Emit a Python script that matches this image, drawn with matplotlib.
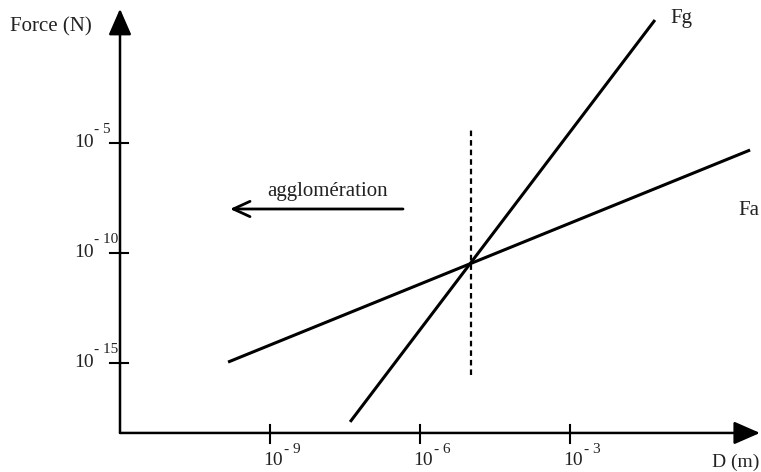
import matplotlib.pyplot as plt

# Force vs particle size (log-log sketch)
# Fa = adhesion force, Fg = weight
fa_d = [1.45e-10, 4.0]
fa_f = [1.1e-15, 4.8e-6]
fg_d = [4.0e-8, 5.0e-2]
fg_f = [2.1e-18, 3.9]
cross_d = 1.05e-5
cross_f = [2.8e-16, 3.9e-5]

x_ticks = [1e-9, 1e-6, 1e-3]
x_tick_exp = ['- 9', '- 6', '- 3']
y_ticks = [1e-5, 1e-10, 1e-15]
y_tick_exp = ['- 5', '- 10', '- 15']

plt.rcParams['font.family'] = ['Liberation Serif', 'DejaVu Serif']

fig = plt.figure(figsize=(7.61, 4.72), dpi=100)
ax = fig.add_axes([0, 0, 1, 1])
ax.set_xscale('log')
ax.set_yscale('log')
ax.set_xlim(10 ** -14.4, 10 ** 0.82)
ax.set_ylim(10 ** -19.955, 10 ** 1.5)
ax.axis('off')

x0 = 10 ** -12.0     # y axis position
y0 = 10 ** -18.18    # x axis position
txt = '#222222'

# axes with filled arrow heads
head = '-|>,head_length=1.6,head_width=0.7'
ax.annotate('', xy=(x0, 10 ** 1.1), xytext=(x0, y0),
            arrowprops=dict(arrowstyle=head, color='black', lw=1.8,
                            shrinkA=0, shrinkB=0))
ax.annotate('', xy=(10 ** 0.8, y0), xytext=(x0, y0),
            arrowprops=dict(arrowstyle=head, color='black', lw=1.8,
                            shrinkA=0, shrinkB=0))

# ticks
for xt, e in zip(x_ticks, x_tick_exp):
    ax.plot([xt, xt], [y0 * 10 ** 0.36, y0 / 10 ** 0.45], color='black', lw=1.5)
    ax.annotate('10', xy=(xt, y0), xytext=(-5, -14), textcoords='offset points',
                fontsize=14, ha='left', va='top', color=txt)
    ax.annotate(e, xy=(xt, y0), xytext=(10, -7), textcoords='offset points',
                fontsize=11, ha='left', va='top', color=txt)
for yt, e in zip(y_ticks, y_tick_exp):
    ax.plot([x0 / 10 ** 0.2, x0 * 10 ** 0.16], [yt, yt], color='black', lw=1.5)
    ax.annotate('10', xy=(x0, yt), xytext=(-33, 0), textcoords='offset points',
                fontsize=14, ha='left', va='center', color=txt)
    ax.annotate(e, xy=(x0, yt), xytext=(-19, 5), textcoords='offset points',
                fontsize=11, ha='left', va='bottom', color=txt)

# force curves
ax.plot(fa_d, fa_f, color='black', lw=2.2, solid_capstyle='butt')
ax.plot(fg_d, fg_f, color='black', lw=2.2, solid_capstyle='butt')
ax.plot([cross_d, cross_d], cross_f, color='black', lw=1.6,
        linestyle=(0, (2.5, 1.8)))

# labels
ax.text(10 ** -1.0, 10 ** 0.64, 'Fg', fontsize=15, ha='left', va='center',
        color=txt)
ax.text(10 ** 0.37, 10 ** -8.05, 'Fa', fontsize=15, ha='left', va='center',
        color=txt)
ax.text(10 ** -0.16, 10 ** -19.5, 'D (m)', fontsize=14, ha='left',
        va='center', color=txt)
ax.text(10 ** -14.2, 10 ** 0.27, 'Force (N)', fontsize=15, ha='left',
        va='center', color=txt)

# agglomeration arrow
ax.annotate('', xy=(10 ** -9.8, 10 ** -8.0), xytext=(10 ** -6.34, 10 ** -8.0),
            arrowprops=dict(arrowstyle='->,head_length=1.2,head_width=0.55',
                            color='black', lw=2.0, shrinkA=0, shrinkB=0))
ax.text(10 ** -7.84, 10 ** -7.2, 'agglomération', fontsize=15, ha='center',
        va='center', color=txt)

fig.savefig('out.png', dpi=100)
